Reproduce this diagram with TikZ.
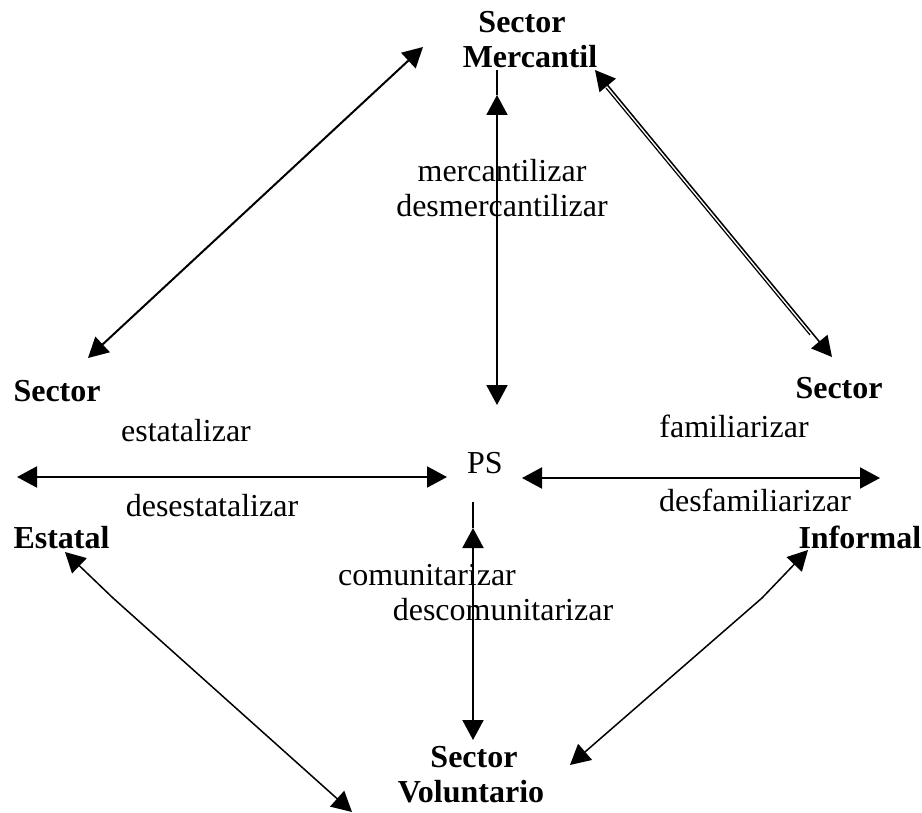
\documentclass[tikz,border=0pt]{standalone}
\usepackage{fontspec}
\setmainfont{Liberation Serif}
\usetikzlibrary{arrows.meta}

\begin{document}
\begin{tikzpicture}[x=1pt,y=-1pt,font=\fontsize{32}{38}\selectfont,
  >={Triangle[length=20pt,width=21pt]},
  sector/.style={font=\fontsize{32}{38}\selectfont\bfseries},
  flecha/.style={line width=2pt,<->},
  fina/.style={line width=1.5pt,<->}]
\useasboundingbox (0,0) rectangle (922,813);
% sectores
\node [sector,anchor=base] (mer1) at (522,33) {Sector};
\node [sector,anchor=base] (mer2) at (530,68) {Mercantil};
\node [sector,anchor=base west] (est1) at (10,401) {Sector};
\node [sector,anchor=base west] (est2) at (10,548) {Estatal};
\node [sector,anchor=base west] (inf1) at (792,399) {Sector};
\node [sector,anchor=base west] (inf2) at (795,548) {Informal};
\node [sector,anchor=base] (vol1) at (474,767) {Sector};
\node [sector,anchor=base] (vol2) at (471,802) {Voluntario};
\node [anchor=base] (ps) at (485,473) {PS};
% procesos
\node [anchor=base] (m1) at (502,182) {mercantilizar};
\node [anchor=base] (m2) at (502,217) {desmercantilizar};
\node [anchor=base] (e1) at (186,441) {estatalizar};
\node [anchor=base] (e2) at (212,516) {desestatalizar};
\node [anchor=base] (f1) at (734,437) {familiarizar};
\node [anchor=base] (f2) at (755,511) {desfamiliarizar};
\node [anchor=base] (c1) at (427,585) {comunitarizar};
\node [anchor=base] (c2) at (503,620) {descomunitarizar};
% extremos
\coordinate (a0) at (497,70);
\coordinate (a1) at (497,95);
\coordinate (a2) at (497,405);
\coordinate (b0) at (473,502);
\coordinate (b1) at (473,528);
\coordinate (b2) at (473,740);
\coordinate (i1) at (17,477);
\coordinate (i2) at (447,477);
\coordinate (d1) at (522,478);
\coordinate (d2) at (880,478);
\coordinate (n1) at (88,358);
\coordinate (n2) at (423,47);
\coordinate (p1) at (595,70);
\coordinate (p2) at (832,357);
\coordinate (q1) at (606,88);
\coordinate (q2) at (810,335);
\coordinate (s1) at (65,552);
\coordinate (sk) at (113,598);
\coordinate (s2) at (352,812);
\coordinate (t1) at (808,550);
\coordinate (tk) at (762,598);
\coordinate (t2) at (570,765);
\draw [line width=2pt] (a0) -- (a1);
\draw [flecha] (a1) -- (a2);
\draw [line width=2pt] (b0) -- (b1);
\draw [flecha] (b1) -- (b2);
\draw [flecha] (i1) -- (i2);
\draw [flecha] (d1) -- (d2);
\draw [flecha] (n1) -- (n2);
\draw [fina] (p1) -- (p2);
\draw [line width=1.2pt] (q1) -- (q2);
\draw [fina] (s1) -- (sk) -- (s2);
\draw [fina] (t1) -- (tk) -- (t2);
\end{tikzpicture}
\end{document}
